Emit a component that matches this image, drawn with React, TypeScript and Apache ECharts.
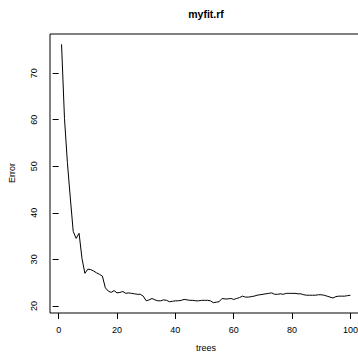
import React, { useEffect, useRef } from "react";
import * as echarts from "echarts";

const errorValues: number[] = [
  76.2, 60.3, 50.8, 43.2, 36.0, 34.5, 35.6, 30.2, 27.0, 27.9,
  27.8, 27.5, 27.1, 26.8, 26.4, 23.9, 23.2, 22.9, 23.3, 22.8,
  22.9, 23.1, 22.7, 22.8, 22.7, 22.6, 22.5, 22.5, 22.1, 21.1,
  21.3, 21.6, 21.3, 21.1, 21.1, 21.3, 21.2, 20.9, 21.0, 21.1,
  21.1, 21.2, 21.4, 21.3, 21.2, 21.2, 21.1, 21.1, 21.2, 21.2,
  21.2, 21.1, 20.7, 20.8, 20.9, 21.6, 21.5, 21.5, 21.6, 21.4,
  21.6, 21.8, 22.1, 21.9, 21.9, 22.0, 22.1, 22.3, 22.4, 22.5,
  22.6, 22.7, 22.8, 22.5, 22.5, 22.6, 22.5, 22.7, 22.7, 22.7,
  22.7, 22.6, 22.6, 22.4, 22.3, 22.3, 22.3, 22.3, 22.4, 22.4,
  22.3, 22.1, 21.9, 21.7, 22.0, 22.1, 22.1, 22.1, 22.2, 22.3,
];
const trees: number[] = errorValues.map((_, i) => i + 1);
const xTicks: number[] = [0, 20, 40, 60, 80, 100];
const yTicks: number[] = [20, 30, 40, 50, 60, 70];

const FONT = "Liberation Sans, Arial, Helvetica, sans-serif";

export default function App() {
  const ref = useRef<HTMLDivElement>(null);
  useEffect(() => {
    if (!ref.current) return;
    const chart = echarts.init(ref.current, null, { renderer: "svg" });
    const xMin = 1 - 0.04 * 99;
    const xMax = 100 + 0.04 * 99;
    const dMin = Math.min(...errorValues);
    const dMax = Math.max(...errorValues);
    const pad = 0.04 * (dMax - dMin);
    chart.setOption({
      animation: false,
      backgroundColor: "#fff",
      grid: {
        left: 50,
        top: 34,
        width: 312,
        height: 279,
        show: true,
        borderColor: "#000",
        borderWidth: 1,
        backgroundColor: "transparent",
        containLabel: false,
        outerBoundsMode: "none",
      },
      xAxis: {
        type: "value",
        min: xMin,
        max: xMax,
        axisLine: { show: false },
        splitLine: { show: false },
        axisTick: {
          show: true,
          customValues: xTicks,
          length: 6,
          lineStyle: { color: "#000", width: 1 },
        },
        axisLabel: {
          show: true,
          customValues: xTicks,
          margin: 12,
          color: "#000",
          fontSize: 9,
          fontFamily: FONT,
        },
      },
      yAxis: {
        type: "value",
        min: dMin - pad,
        max: dMax + pad,
        axisLine: { show: false },
        splitLine: { show: false },
        axisTick: {
          show: true,
          customValues: yTicks,
          length: 6,
          lineStyle: { color: "#000", width: 1 },
        },
        axisLabel: {
          show: true,
          customValues: yTicks,
          rotate: 90,
          margin: 12,
          color: "#000",
          fontSize: 9,
          fontFamily: FONT,
        },
      },
      series: [
        {
          type: "line",
          data: trees.map((t, i) => [t, errorValues[i]]),
          showSymbol: false,
          lineStyle: { color: "#000", width: 1 },
          silent: true,
        },
      ],
      graphic: [
        {
          type: "text",
          x: 206,
          y: 14,
          style: {
            text: "myfit.rf",
            fontFamily: FONT,
            fontWeight: "bold",
            fontSize: 10.5,
            fill: "#000",
            align: "center",
            verticalAlign: "middle",
          },
        },
        {
          type: "text",
          x: 206,
          y: 348,
          style: {
            text: "trees",
            fontFamily: FONT,
            fontSize: 9,
            fill: "#000",
            align: "center",
            verticalAlign: "middle",
          },
        },
        {
          type: "text",
          x: 12,
          y: 173,
          rotation: Math.PI / 2,
          style: {
            text: "Error",
            fontFamily: FONT,
            fontSize: 9,
            fill: "#000",
            align: "center",
            verticalAlign: "middle",
          },
        },
      ],
    });
    return () => chart.dispose();
  }, []);
  return (
    <div
      ref={ref}
      style={{ position: "fixed", left: 0, top: 0, width: 358, height: 354 }}
    />
  );
}
